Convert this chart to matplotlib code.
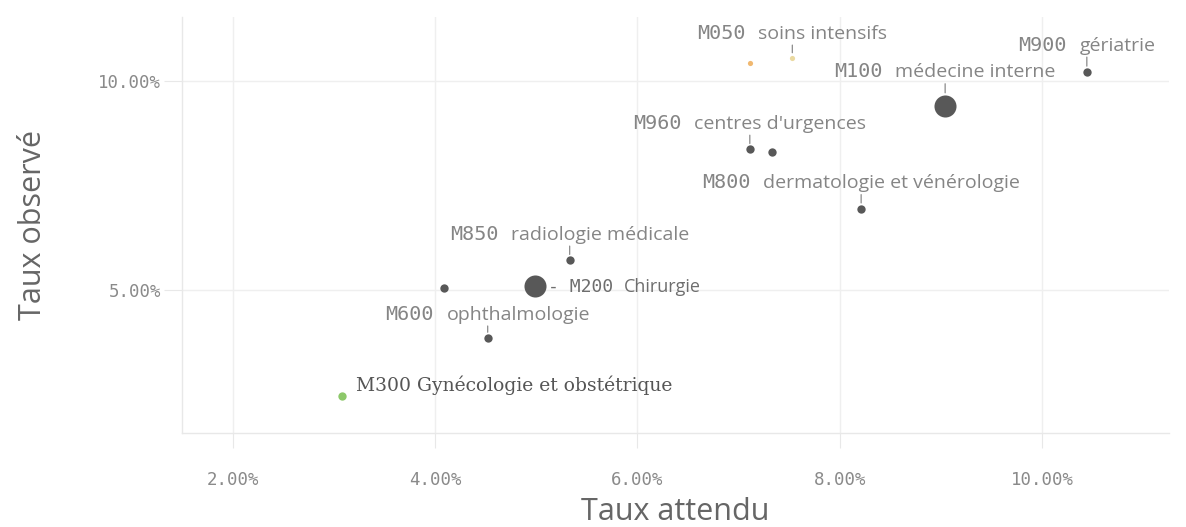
import matplotlib
matplotlib.use("Agg")
import matplotlib.pyplot as plt
from matplotlib.offsetbox import TextArea, HPacker, AnnotationBbox
from matplotlib.ticker import FixedLocator, FuncFormatter

# ---- data (percent) ----
codes = ["M050", "M050b", "M900", "M100", "M960", "M960b", "M800", "M850",
         "M600b", "M200", "M600", "M300"]
names = ["soins intensifs", "", "gériatrie", "médecine interne", "centres d'urgences", "",
         "dermatologie et vénérologie", "radiologie médicale", "", "Chirurgie",
         "ophthalmologie", "Gynécologie et obstétrique"]
taux_attendu = [7.53, 7.11, 10.44, 9.04, 7.11, 7.33, 8.21, 5.33, 4.09, 4.99, 4.52, 3.08]
taux_observe = [10.54, 10.42, 10.22, 9.40, 8.37, 8.31, 6.95, 5.72, 5.06, 5.10, 3.86, 2.47]
volume = [1, 1, 2, 14, 2, 2, 2, 2, 2, 14, 2, 2]
x_ticks = [2, 4, 6, 8, 10]
y_ticks = [5, 10]

# ---- styles ----
dot_color = {"M050": "#ead9a0", "M050b": "#f0b870", "M300": "#8dc86a"}
default_dot = "#585858"
label_gray = "#858585"
mono = "DejaVu Sans Mono"
sans = "Open Sans"

fig = plt.figure(figsize=(11.86, 5.27), dpi=100)
ax = fig.add_axes([0.1535, 0.178, 0.832, 0.79])

for c, x, y, v in zip(codes, taux_attendu, taux_observe, volume):
    col = dot_color.get(c, default_dot)
    s = 18 * v if v > 1 else 14
    ax.scatter([x], [y], s=s, color=col, zorder=3, linewidths=0)

ax.set_xlim(1.5, 11.25)
ax.set_ylim(1.58, 11.53)

for sp in ["top", "right"]:
    ax.spines[sp].set_visible(False)
for sp in ["left", "bottom"]:
    ax.spines[sp].set_color("#e8e8e8")
    ax.spines[sp].set_linewidth(1)

ax.xaxis.set_major_locator(FixedLocator(x_ticks))
ax.yaxis.set_major_locator(FixedLocator(y_ticks))
fmt = FuncFormatter(lambda v, p: f"{v:.2f}%")
ax.xaxis.set_major_formatter(fmt)
ax.yaxis.set_major_formatter(fmt)
ax.grid(True, color="#efefef", linewidth=1)
ax.set_axisbelow(True)
ax.tick_params(axis="x", length=11, color="#e8e8e8", pad=16, labelsize=12.5,
               labelcolor="#8a8a8a")
ax.tick_params(axis="y", length=13, color="#e8e8e8", pad=2, labelsize=12.5,
               labelcolor="#8a8a8a")
for lab in ax.get_xticklabels() + ax.get_yticklabels():
    lab.set_family(mono)

ax.set_xlabel("Taux attendu", family="Open Sans", fontsize=22, color="#666666",
              labelpad=6)
ax.set_ylabel("Taux observé", family="Open Sans", fontsize=22, color="#666666",
              labelpad=36)


def label(code, name, x, y, dy, rad, size=14, color=label_gray):
    box = HPacker(children=[
        TextArea(code, textprops=dict(family=mono, size=size + 0.5, color=color)),
        TextArea(name, textprops=dict(family=sans, size=size, color=color)),
    ], align="baseline", pad=0, sep=9)
    ab = AnnotationBbox(box, (x, y), xybox=(0, dy), xycoords="data",
                        boxcoords="offset points", frameon=False,
                        box_alignment=(0.5, 0.5), zorder=4)
    ax.add_artist(ab)
    ax.annotate("", xy=(x, y), xytext=(0, dy - 8.5), textcoords="offset points",
                arrowprops=dict(arrowstyle="-", color="#8a8a8a", lw=0.9,
                                shrinkA=0, shrinkB=rad + 1.5))


above = {"M050": 18, "M900": 19, "M100": 24.5, "M960": 18.5, "M800": 18.5,
         "M850": 18.5, "M600": 17}
for c, n, x, y, v in zip(codes, names, taux_attendu, taux_observe, volume):
    if c in above:
        rad = 8 if v > 5 else 2.5
        label(c, n, x, y, above[c], rad)

# Chirurgie label to the right of its bubble
i = codes.index("M200")
box = HPacker(children=[
    TextArea("- M200", textprops=dict(family=mono, size=13, color="#6e6e6e")),
    TextArea(names[i], textprops=dict(family=sans, size=13, color="#6e6e6e")),
], align="baseline", pad=0, sep=8)
ax.add_artist(AnnotationBbox(box, (taux_attendu[i], taux_observe[i]), xybox=(9, -1),
                             xycoords="data", boxcoords="offset points", frameon=False,
                             box_alignment=(0, 0.5), zorder=4))

# Gynécologie label in serif
i = codes.index("M300")
ax.annotate(codes[i] + " " + names[i], (taux_attendu[i], taux_observe[i]),
            xytext=(10, 8), textcoords="offset points", family="DejaVu Serif",
            fontsize=13.5, color="#555555", va="center", ha="left")

fig.savefig("out.png", dpi=100)
